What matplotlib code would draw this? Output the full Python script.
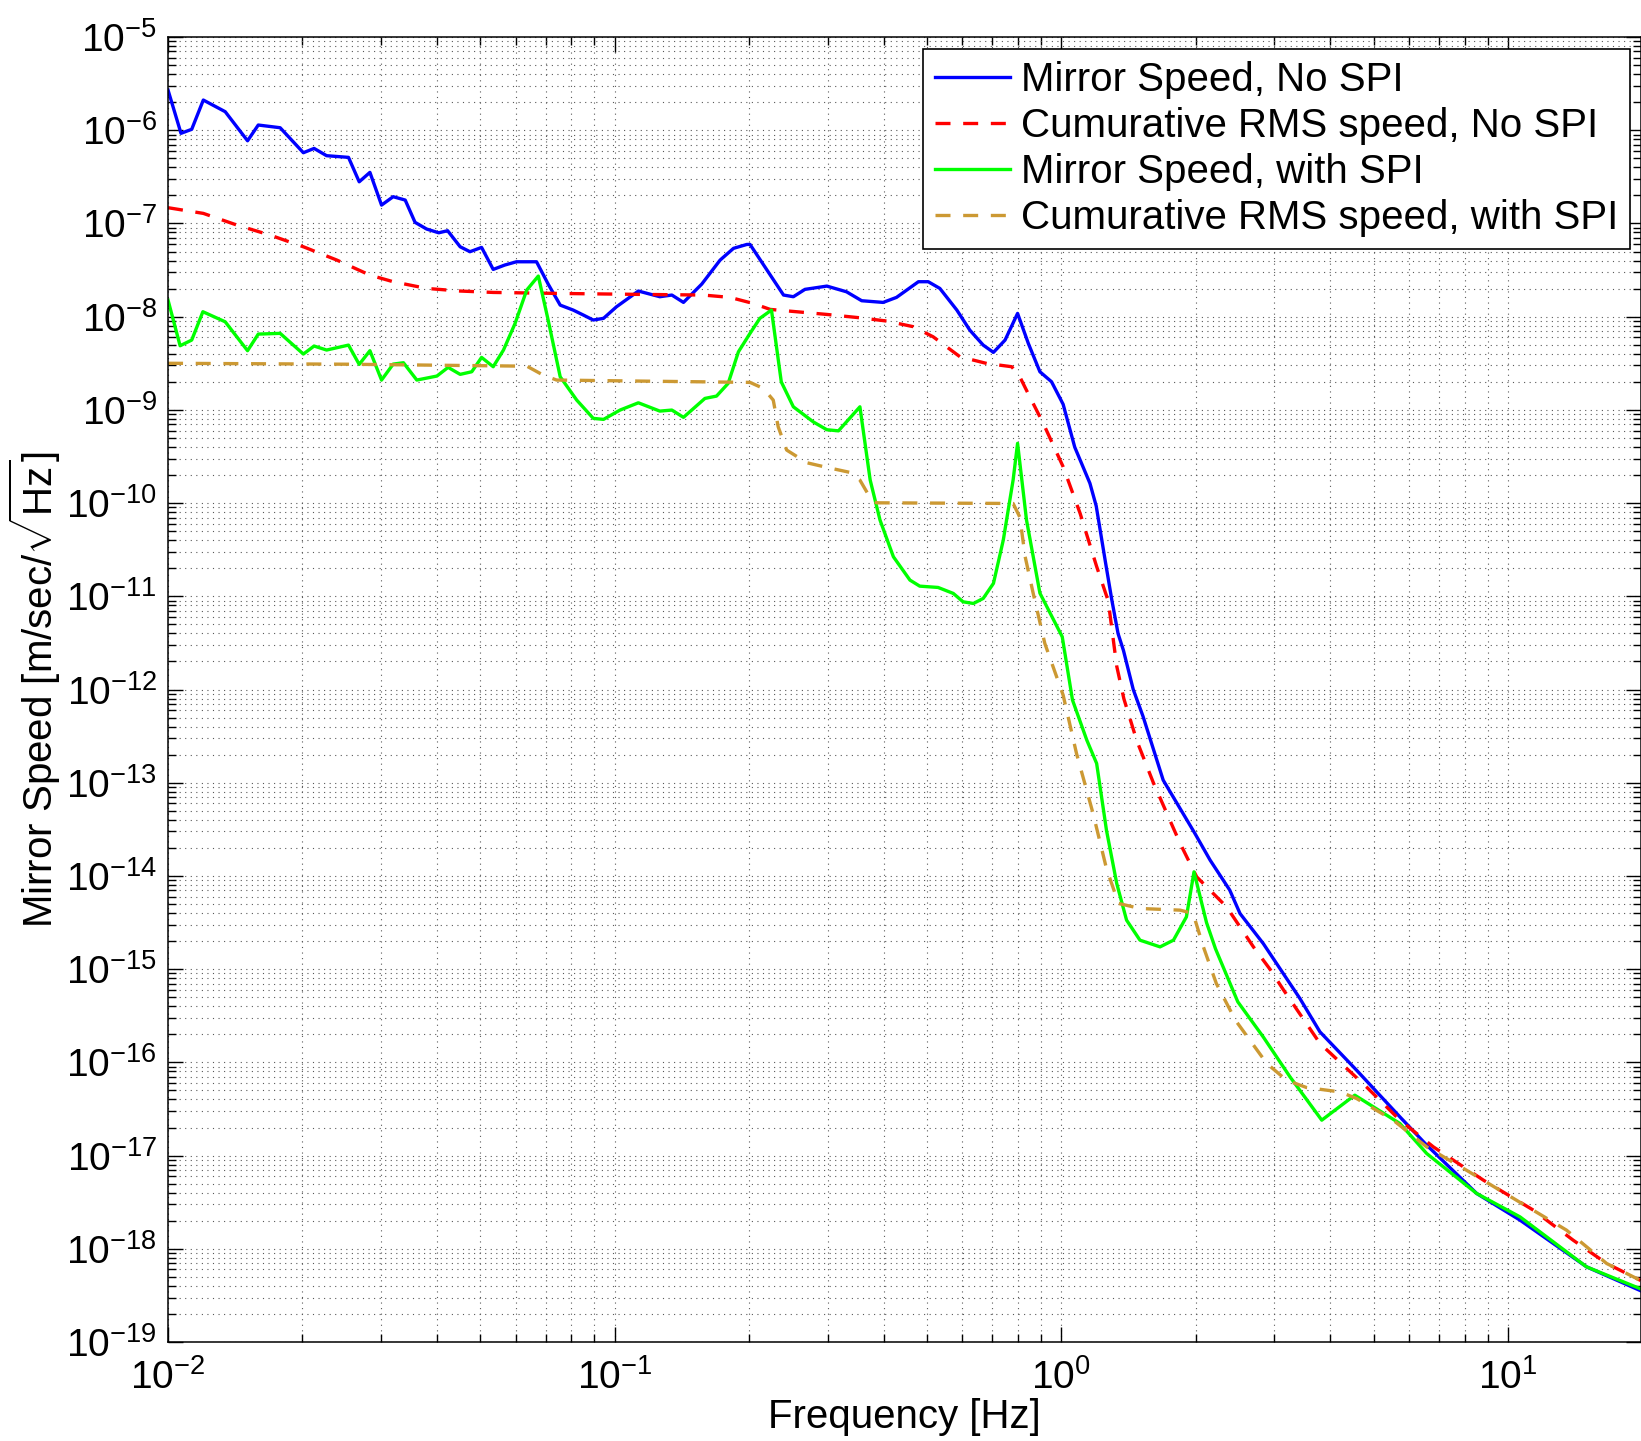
import numpy as np
import matplotlib
matplotlib.use("Agg")
import matplotlib.pyplot as plt
from matplotlib.ticker import LogLocator, NullFormatter

# ---- data (log10 of frequency [Hz] and of speed [m/sec/sqrt(Hz)]) ----
blue_logf = [-2.000, -1.971, -1.947, -1.921, -1.872, -1.822, -1.798, -1.749, -1.697, -1.673,
             -1.645, -1.596, -1.572, -1.548, -1.522, -1.496, -1.469, -1.447, -1.421, -1.394,
             -1.374, -1.346, -1.324, -1.298, -1.272, -1.246, -1.220, -1.175, -1.149, -1.122,
             -1.093, -1.070, -1.048, -1.025, -0.996, -0.947, -0.899, -0.872, -0.846, -0.805,
             -0.764, -0.734, -0.704, -0.697, -0.622, -0.600, -0.574, -0.525, -0.481, -0.447,
             -0.399, -0.369, -0.320, -0.298, -0.272, -0.234, -0.205, -0.175, -0.152, -0.126,
             -0.098, -0.074, -0.048, -0.022, 0.004, 0.030, 0.064, 0.078, 0.098, 0.113,
             0.127, 0.139, 0.161, 0.183, 0.228, 0.299, 0.333, 0.377, 0.400, 0.452,
             0.534, 0.579, 0.661, 0.758, 0.818, 0.930, 1.027, 1.176, 1.297]
blue_logv = [-5.569, -6.033, -5.990, -5.676, -5.801, -6.113, -5.944, -5.973, -6.241, -6.195,
             -6.273, -6.291, -6.553, -6.452, -6.803, -6.713, -6.749, -6.988, -7.060, -7.100,
             -7.078, -7.250, -7.303, -7.257, -7.493, -7.446, -7.411, -7.411, -7.650, -7.876,
             -7.929, -7.983, -8.036, -8.018, -7.894, -7.725, -7.786, -7.768, -7.847, -7.650,
             -7.393, -7.267, -7.225, -7.225, -7.768, -7.786, -7.707, -7.672, -7.733, -7.829,
             -7.847, -7.793, -7.625, -7.625, -7.697, -7.929, -8.144, -8.305, -8.383, -8.251,
             -7.965, -8.286, -8.591, -8.698, -8.940, -9.400, -9.788, -10.030, -10.612, -11.040,
             -11.400, -11.580, -12.000, -12.290, -12.972, -13.544, -13.830, -14.152, -14.403, -14.725,
             -15.314, -15.673, -16.084, -16.585, -16.888, -17.407, -17.693, -18.194, -18.450]

red_logf = [-2.000, -1.921, -1.846, -1.772, -1.697, -1.622, -1.548, -1.496, -1.421, -1.346,
            -1.272, -1.122, -0.943, -0.802, -0.742, -0.690, -0.652, -0.593, -0.525, -0.451,
            -0.391, -0.331, -0.287, -0.227, -0.167, -0.111, -0.093, -0.078, -0.040, 0.004,
            0.042, 0.079, 0.105, 0.124, 0.140, 0.169, 0.206, 0.266, 0.303, 0.370,
            0.430, 0.467, 0.497, 0.579, 0.683, 0.758, 0.833, 0.945, 1.057, 1.146,
            1.221, 1.297]
red_logv = [-6.831, -6.892, -7.017, -7.124, -7.250, -7.393, -7.554, -7.625, -7.697, -7.725,
            -7.740, -7.751, -7.761, -7.768, -7.793, -7.858, -7.922, -7.947, -7.976, -8.012,
            -8.047, -8.108, -8.216, -8.430, -8.502, -8.537, -8.645, -8.790, -9.150, -9.610,
            -10.110, -10.680, -11.050, -11.750, -12.100, -12.550, -13.000, -13.652, -14.010, -14.332,
            -14.761, -15.000, -15.220, -15.797, -16.263, -16.620, -16.907, -17.264, -17.586, -17.908,
            -18.158, -18.340]

green_logf = [-2.000, -1.973, -1.947, -1.922, -1.872, -1.822, -1.798, -1.749, -1.697, -1.673,
              -1.645, -1.596, -1.572, -1.548, -1.522, -1.496, -1.473, -1.443, -1.398, -1.373,
              -1.346, -1.320, -1.298, -1.272, -1.249, -1.223, -1.197, -1.171, -1.149, -1.122,
              -1.085, -1.048, -1.025, -0.988, -0.947, -0.899, -0.872, -0.846, -0.798, -0.772,
              -0.746, -0.723, -0.697, -0.675, -0.649, -0.627, -0.600, -0.555, -0.525, -0.499,
              -0.451, -0.428, -0.406, -0.376, -0.339, -0.317, -0.276, -0.242, -0.220, -0.197,
              -0.175, -0.152, -0.130, -0.108, -0.098, -0.078, -0.048, 0.002, 0.025, 0.057,
              0.079, 0.101, 0.124, 0.146, 0.176, 0.221, 0.251, 0.280, 0.297, 0.325,
              0.345, 0.395, 0.452, 0.512, 0.583, 0.657, 0.758, 0.818, 0.930, 1.027,
              1.176, 1.297]
green_logv = [-7.822, -8.312, -8.251, -7.947, -8.055, -8.365, -8.187, -8.179, -8.401, -8.315,
              -8.358, -8.305, -8.512, -8.365, -8.680, -8.509, -8.494, -8.680, -8.637, -8.544,
              -8.619, -8.591, -8.437, -8.537, -8.358, -8.072, -7.715, -7.564, -8.036, -8.645,
              -8.895, -9.091, -9.102, -9.002, -8.924, -9.013, -9.002, -9.080, -8.877, -8.852,
              -8.716, -8.377, -8.179, -8.018, -7.929, -8.700, -8.967, -9.130, -9.213, -9.225,
              -8.967, -9.753, -10.182, -10.576, -10.826, -10.891, -10.905, -10.969, -11.059, -11.077,
              -11.023, -10.861, -10.397, -9.753, -9.359, -10.182, -10.966, -11.434, -12.114, -12.543,
              -12.793, -13.509, -14.081, -14.474, -14.689, -14.761, -14.689, -14.439, -13.956, -14.500,
              -14.780, -15.350, -15.727, -16.156, -16.620, -16.352, -16.656, -16.978, -17.407, -17.658,
              -18.194, -18.430]

gold_logf = [-2.000, -1.600, -1.222, -1.197, -1.160, -1.130, -0.943, -0.697, -0.667, -0.645,
             -0.634, -0.615, -0.570, -0.525, -0.473, -0.451, -0.425, -0.413, -0.108, -0.093,
             -0.081, -0.063, -0.037, 0.004, 0.034, 0.071, 0.101, 0.128, 0.176, 0.266,
             0.295, 0.318, 0.347, 0.390, 0.460, 0.504, 0.549, 0.624, 0.661, 0.743,
             0.818, 0.907, 1.019, 1.131, 1.221, 1.297]
gold_logv = [-8.500, -8.510, -8.530, -8.530, -8.627, -8.680, -8.691, -8.705, -8.770, -8.895,
             -9.181, -9.431, -9.567, -9.617, -9.671, -9.753, -9.968, -9.997, -10.004, -10.150,
             -10.576, -10.969, -11.506, -12.060, -12.687, -13.330, -13.920, -14.295, -14.349, -14.367,
             -14.403, -14.761, -15.154, -15.550, -16.012, -16.191, -16.270, -16.317, -16.388, -16.620,
             -16.907, -17.157, -17.479, -17.800, -18.158, -18.340]

labels = ["Mirror Speed, No SPI",
          "Cumurative RMS speed, No SPI",
          "Mirror Speed, with SPI",
          "Cumurative RMS speed, with SPI"]

# ---- style ----
plt.rcParams['font.family'] = ['Liberation Sans', 'DejaVu Sans']
plt.rcParams['mathtext.fontset'] = 'custom'
plt.rcParams['mathtext.rm'] = 'Liberation Sans'
plt.rcParams['mathtext.it'] = 'Liberation Sans:italic'
plt.rcParams['mathtext.bf'] = 'Liberation Sans:bold'
plt.rcParams['mathtext.default'] = 'regular'

TICK_FS = 28
LABEL_FS = 29
LEG_FS = 29
fig = plt.figure(figsize=(16.41, 14.41), dpi=100)
ax = fig.add_axes([0.1024, 0.0687, 0.8976, 0.9056])

lw = 2.4
ax.plot(10 ** np.array(blue_logf), 10 ** np.array(blue_logv), color='#0000ff', lw=lw, label=labels[0])
ax.plot(10 ** np.array(red_logf), 10 ** np.array(red_logv), color='#ff0000', lw=lw,
        linestyle=(0, (4.5, 3.8)), label=labels[1])
ax.plot(10 ** np.array(green_logf), 10 ** np.array(green_logv), color='#00ff00', lw=lw, label=labels[2])
ax.plot(10 ** np.array(gold_logf), 10 ** np.array(gold_logv), color='#cc9933', lw=lw,
        linestyle=(0, (4.5, 3.8)), label=labels[3])

ax.set_xscale('log')
ax.set_yscale('log')
ax.set_xlim(1e-2, 19.85)
ax.set_ylim(1e-19, 1e-5)

ax.xaxis.set_major_locator(LogLocator(base=10, numticks=30))
ax.xaxis.set_minor_locator(LogLocator(base=10, subs=np.arange(2, 10), numticks=300))
ax.yaxis.set_major_locator(LogLocator(base=10, numticks=30))
ax.yaxis.set_minor_locator(LogLocator(base=10, subs=np.arange(2, 10), numticks=300))
ax.xaxis.set_minor_formatter(NullFormatter())
ax.yaxis.set_minor_formatter(NullFormatter())

ax.tick_params(which='both', direction='in', top=True, right=True, labelsize=TICK_FS, width=1.0)
ax.tick_params(which='major', length=10.5)
ax.tick_params(which='minor', length=6)
ax.tick_params(axis='y', which='major', pad=8)
ax.tick_params(axis='x', which='major', pad=12)

ax.grid(True, which='both', linestyle=(0, (1, 4)), color='0.35', linewidth=0.8)
ax.set_axisbelow(True)
for s in ax.spines.values():
    s.set_linewidth(1.1)

ax.set_xlabel('Frequency [Hz]', fontsize=LABEL_FS, labelpad=1)
ax.set_ylabel(r'Mirror Speed $[\mathrm{m/sec}/\sqrt{\mathrm{Hz}}]$', fontsize=LABEL_FS, labelpad=2)

leg = ax.legend(loc='upper right', bbox_to_anchor=(0.9925, 0.9908), borderaxespad=0,
                fontsize=LEG_FS, fancybox=False, framealpha=1, edgecolor='black',
                handlelength=1.87, handletextpad=0.26, labelspacing=0.2, borderpad=0.3)
leg.get_frame().set_linewidth(1.2)

fig.savefig('out.png', dpi=100)
